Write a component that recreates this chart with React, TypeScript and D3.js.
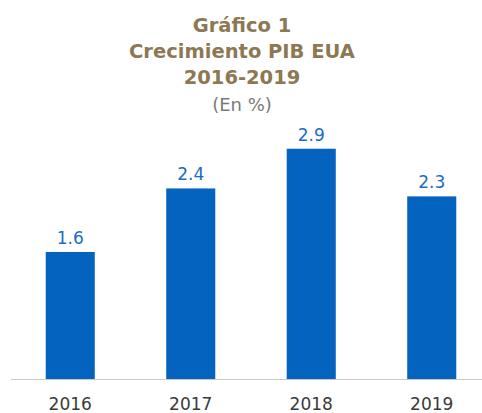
import React from "react";
import * as d3 from "d3";

const categories = ["2016", "2017", "2018", "2019"];
const values = [1.6, 2.4, 2.9, 2.3];
const titleLines = ["Gráfico 1", "Crecimiento PIB EUA", "2016-2019"];
const subtitle = "(En %)";

const W = 482;
const H = 413;

export default function App() {
  const x = d3.scaleBand<string>().domain(categories).range([10, 492]).paddingInner(0.593).paddingOuter(0.2965);
  const y = d3.scaleLinear().domain([0, 1]).range([379, 299.6]);
  const font = "'DejaVu Sans', sans-serif";
  return (
    <div style={{ position: "absolute", left: 0, top: 0 }}>
      <svg width={W} height={H} style={{ display: "block" }}>
        <rect width={W} height={H} fill="#fff" />
        {titleLines.map((t, i) => (
          <text key={t} x={242} y={32 + i * 26} textAnchor="middle" fontFamily={font} fontWeight={700} fontSize={19.5} fill="#8c7853">
            {t}
          </text>
        ))}
        <text x={242} y={111} textAnchor="middle" fontFamily={font} fontSize={18} fill="#7a7a7a">
          {subtitle}
        </text>
        {categories.map((c, i) => (
          <g key={c}>
            <rect x={x(c)} y={y(values[i])} width={x.bandwidth()} height={y(0) - y(values[i])} fill="#0563c0" />
            <text x={(x(c) ?? 0) + x.bandwidth() / 2} y={y(values[i]) - 8} textAnchor="middle" fontFamily={font} fontSize={17} fill="#1a6cc4">
              {values[i].toFixed(1)}
            </text>
            <text x={(x(c) ?? 0) + x.bandwidth() / 2} y={410} textAnchor="middle" fontFamily={font} fontSize={17} fill="#3a3a3a">
              {c}
            </text>
          </g>
        ))}
        <line x1={11} x2={482} y1={379.5} y2={379.5} stroke="#c8c8c8" strokeWidth={1} />
      </svg>
    </div>
  );
}
